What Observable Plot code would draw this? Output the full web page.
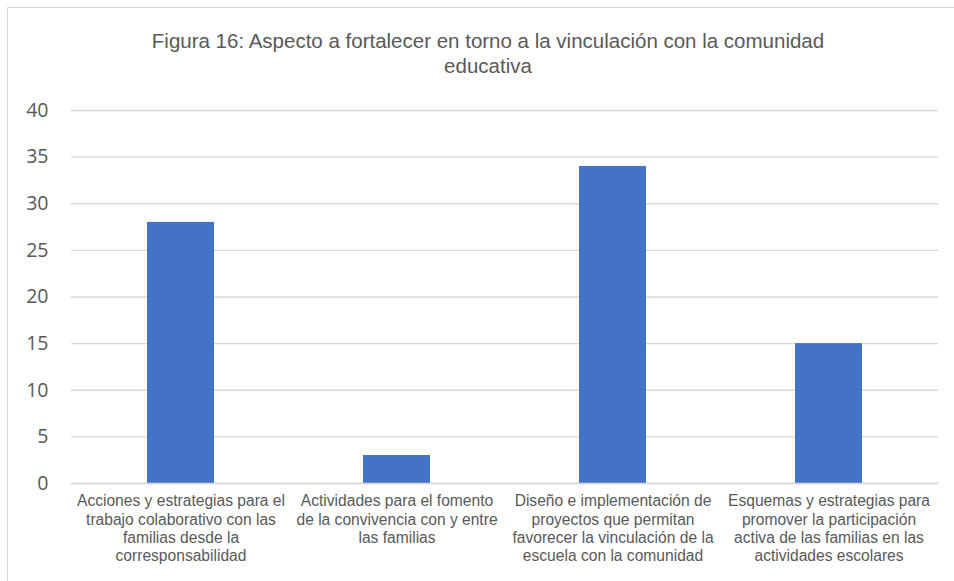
<!DOCTYPE html>
<html>
<head>
<meta charset="utf-8">
<script src="https://cdn.jsdelivr.net/npm/d3@7"></script>
<script src="https://cdn.jsdelivr.net/npm/@observablehq/plot@0.6"></script>
<style>
  html, body { margin: 0; padding: 0; background: #fff; }
  #frame { position: absolute; left: 7px; top: 7px; width: 960px; height: 600px;
           border-left: 1.5px solid #d9d9d9; border-top: 1.5px solid #d9d9d9; }
  #title { position: absolute; left: 0; top: 28px; width: 976px; text-align: center;
           font-family: "Liberation Sans", Arial, sans-serif; font-size: 20.5px;
           line-height: 25px; color: #595959; }
  #chart { position: absolute; left: 0; top: 85px; }
</style>
</head>
<body>
<div id="frame"></div>
<div id="title">Figura 16: Aspecto a fortalecer en torno a la vinculación con la comunidad<br>educativa</div>
<div id="chart"></div>
<script>
const categories = [
  "Acciones y estrategias para el\ntrabajo colaborativo con las\nfamilias desde la\ncorresponsabilidad",
  "Actividades para el fomento\nde la convivencia con y entre\nlas familias",
  "Diseño e implementación de\nproyectos que permitan\nfavorecer la vinculación de la\nescuela con la comunidad",
  "Esquemas y estrategias para\npromover la participación\nactiva de las familias en las\nactividades escolares"
];
const values = [28, 3, 34, 15];
const yTicks = [0, 5, 10, 15, 20, 25, 30, 35, 40];

const data = categories.map((c, i) => ({category: c, value: values[i]}));

const chart = Plot.plot({
  width: 954,
  height: 496,
  marginTop: 25,
  marginBottom: 98,
  marginLeft: 71,
  marginRight: 16,
  style: {background: "transparent", overflow: "visible"},
  x: {domain: categories, paddingInner: 0.69, paddingOuter: 0.345, label: null},
  y: {domain: [0, 40], ticks: yTicks, label: null},
  marks: [
    Plot.gridY(yTicks, {stroke: "#d9d9d9", strokeOpacity: 1, strokeWidth: 1.3}),
    Plot.barY(data, {x: "category", y: "value", fill: "#4472c4"}),
    Plot.axisY(yTicks, {tickSize: 0, tickPadding: 23, fontSize: 19.5, fill: "#595959",
      fontFamily: "'Open Sans', 'Noto Sans', sans-serif", label: null}),
    Plot.axisX({tickSize: 0, tickPadding: 10, fontSize: 15.6, fill: "#595959", lineHeight: 1.17,
      fontFamily: "'Liberation Sans', Arial, sans-serif", label: null, textOverflow: null}),
    Plot.ruleY([0], {stroke: "#d9d9d9", strokeWidth: 1.3})
  ]
});
document.getElementById("chart").appendChild(chart);
</script>
</body>
</html>
